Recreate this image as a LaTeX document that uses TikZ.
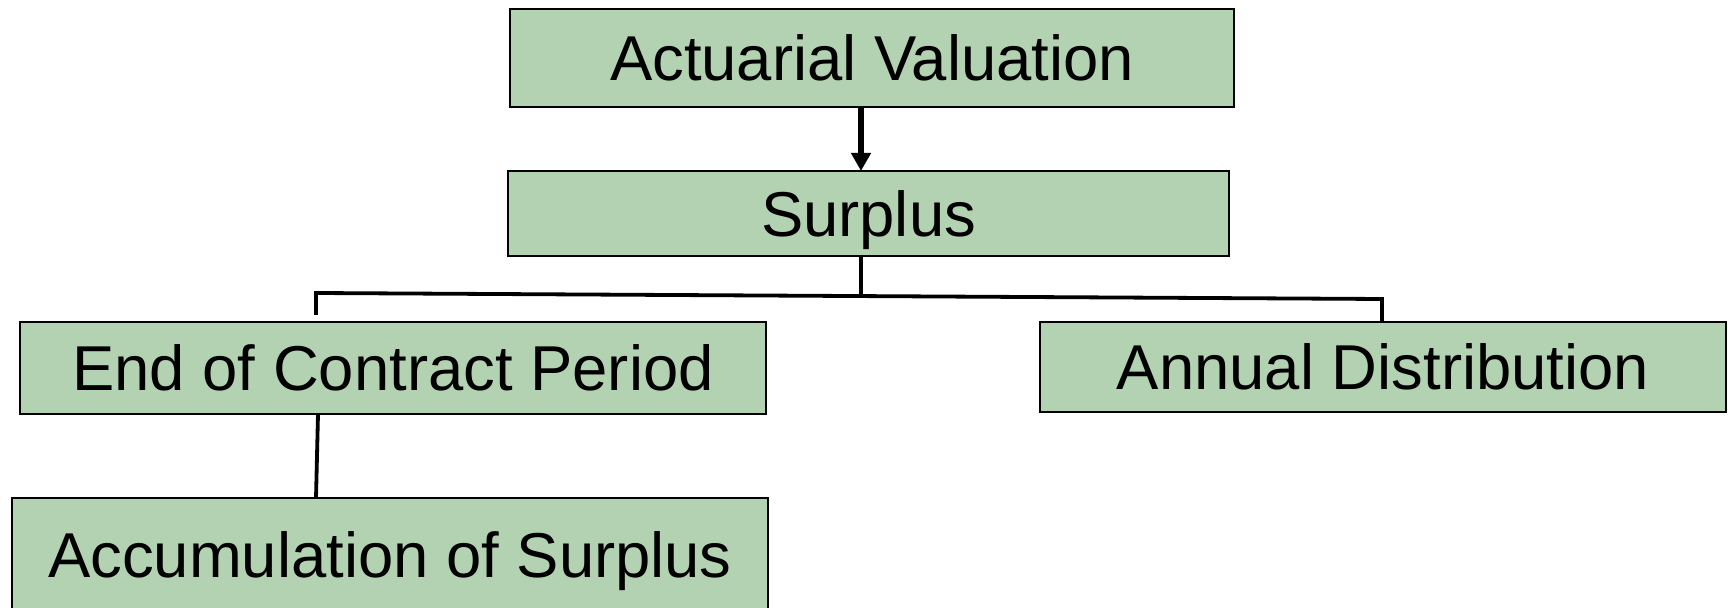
\documentclass[tikz,border=0pt]{standalone}
\usepackage{fontspec}
\setmainfont{Liberation Sans}
\usetikzlibrary{arrows.meta}
\definecolor{boxgreen}{RGB}{179,210,178}
\tikzset{
  gbox/.style={draw=black, line width=0.8pt, fill=boxgreen, inner sep=0pt, outer sep=0pt,
    font=\fontsize{31.7pt}{36pt}\selectfont, text height=22.7pt, text depth=0pt, align=center},
  conn/.style={line width=1.9pt, line join=miter},
  arr/.style={line width=2.8pt, -{Triangle[length=9pt,width=9.5pt]}}
}
\begin{document}
\begin{tikzpicture}[x=0.5pt,y=-0.5pt]
\useasboundingbox (0,0) rectangle (1728,608);
\clip (0,0) rectangle (1728,608);
\node[gbox, minimum width=362pt, minimum height=49pt] (av) at (872,58) {Actuarial Valuation};
\node[gbox, minimum width=360.5pt, minimum height=42.5pt] (sp) at (868.5,213.5) {Surplus};
\node[gbox, minimum width=373pt, minimum height=46pt] (ec) at (393,368) {End of Contract Period};
\node[gbox, minimum width=343pt, minimum height=45pt] (ad) at (1383,367) {Annual Distribution};
\node[gbox, minimum width=378pt, minimum height=57pt] (ac) at (390,555) {Accumulation of Surplus};
% arrow
\draw[arr] ([xshift=-5.5pt]av.south) -- ([xshift=-5.5pt]av.south |- sp.north);
% tree
\coordinate (jl) at (316,293);
\coordinate (jr) at (1382,299);
\coordinate (jl2) at (316,315);
\coordinate (jm) at (861,296);
\draw[conn] (jl2) -- (jl) -- (jr) -- (jr |- ad.north);
\draw[conn] ([xshift=-3.75pt]sp.south) -- (jm);
\draw[conn] ([xshift=-37.5pt]ec.south) -- ([xshift=-37pt]ac.north);
\end{tikzpicture}
\end{document}
